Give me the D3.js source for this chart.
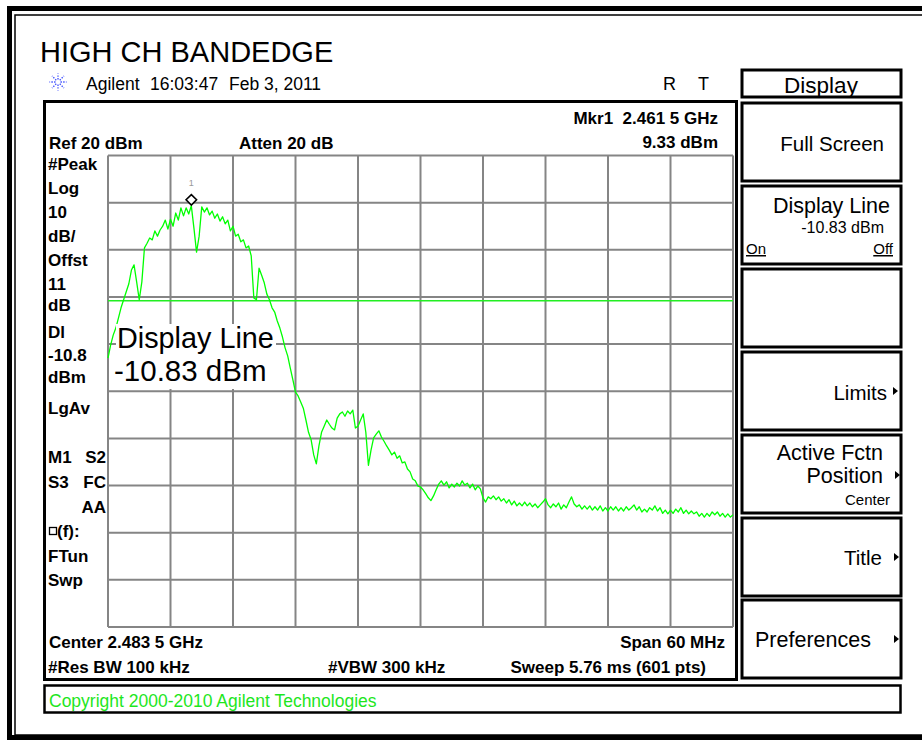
<!DOCTYPE html>
<html>
<head>
<meta charset="utf-8">
<title>HIGH CH BANDEDGE</title>
<style>
	html, body { margin:0; padding:0; background:#fff; }
	svg { display:block; font-family: "Liberation Sans", Arial, Helvetica, sans-serif; }
	.ann { font-weight:bold; font-size:17px; fill:#000; }
	.key { font-size:20.5px; fill:#000; }
	.box { fill:#fff; stroke:#000; stroke-width:3px; }
	.grid { stroke:#858585; stroke-width:2px; }
	.trace { fill:none; stroke:#00ff00; stroke-width:1.3px; stroke-linejoin:round; }
</style>
<script src="https://d3js.org/d3.v7.min.js"></script>
</head>
<body>
<svg id="chart"></svg>
<script>

//sweep settings
var startMHz = 2453.5, stopMHz = 2513.5;
var refLevel = 20, dbPerDiv = 10, divs = 10;
var displayLine = -10.83;
var markerMHz = 2461.5, markerLevel = 9.33;

//trace levels (dBm), evenly spaced sweep bins
var levels = [
	-23.0,-20.2,-18.1,-16.6,-14.5,-12.3,-10.6,-8.9,-7.2,-4.3,
	-3.2,-6.8,-10.6,-6.8,0.4,1.4,2.5,2.1,4.0,2.9,
	4.2,5.0,6.3,4.4,6.5,5.0,7.8,6.3,8.9,7.2,
	8.9,7.6,9.33,4.6,-0.5,2.9,9.1,8.0,8.9,7.4,
	8.2,6.7,7.6,6.1,7.0,5.5,6.3,4.0,5.0,2.9,
	3.3,1.7,2.1,0.4,0.8,-1.3,-10.2,-10.6,-3.9,-5.4,
	-7.0,-9.4,-10.6,-12.3,-13.2,-15.1,-16.6,-18.5,-20.8,-22.5,
	-25.1,-27.6,-30.2,-31.0,-32.3,-33.6,-36.1,-38.7,-40.3,-43.5,
	-45.4,-41.6,-38.7,-37.4,-36.1,-37.0,-37.8,-38.2,-35.7,-34.8,
	-34.4,-35.3,-34.2,-34.8,-34.0,-37.8,-37.4,-36.1,-34.8,-38.7,
	-45.7,-42.5,-39.9,-39.1,-38.4,-39.7,-40.6,-41.6,-42.5,-43.5,
	-42.9,-44.2,-43.7,-45.2,-45.0,-46.5,-47.1,-48.6,-49.0,-50.1,
	-50.3,-50.9,-51.7,-52.6,-53.2,-52.2,-50.9,-49.7,-49.0,-49.9,
	-49.2,-50.5,-49.7,-50.3,-49.5,-50.1,-49.0,-49.9,-49.5,-50.5,
	-49.7,-50.9,-50.1,-50.7,-52.6,-53.5,-52.4,-52.8,-52.2,-53.0,
	-52.4,-53.3,-52.8,-53.7,-53.0,-54.1,-53.3,-54.3,-53.7,-54.3,
	-53.5,-54.3,-53.7,-54.5,-53.9,-54.7,-54.1,-53.5,-52.8,-54.1,
	-54.7,-53.9,-54.5,-53.7,-55.0,-54.1,-54.7,-53.5,-52.4,-53.9,
	-54.5,-54.1,-55.0,-54.3,-55.0,-54.3,-55.2,-54.5,-55.2,-54.3,
	-55.4,-54.7,-55.4,-54.5,-55.2,-54.5,-55.4,-54.7,-55.4,-54.5,
	-55.2,-54.7,-54.1,-55.2,-54.5,-55.6,-55.0,-55.6,-54.7,-55.2,
	-54.3,-55.4,-54.7,-55.9,-55.2,-56.0,-55.2,-55.9,-55.0,-55.6,
	-54.7,-55.9,-55.2,-56.0,-55.4,-56.0,-55.6,-56.5,-55.9,-56.7,
	-55.9,-56.5,-55.6,-56.2,-55.6,-56.5,-55.9,-56.7,-56.0,-56.7,
	-56.2
];

//screen texts
var title = "HIGH CH BANDEDGE";
var stamp = ["Agilent", "16:03:47", "Feb 3, 2011"];
var leftLabels = ["#Peak","Log","10","dB/","Offst","11","dB","Dl","-10.8","dBm","LgAv","FTun","Swp"];
var softkeys = ["Full Screen","Display Line","","Limits","Active Fctn","Title","Preferences"];

var W = 922, H = 740;
var svg = d3.select("#chart").attr("width", W).attr("height", H);

function txt(x, y, s, cls, anchor) {
	return svg.append("text").attr("x", x).attr("y", y).attr("class", cls || null)
		.style("text-anchor", anchor || "start").text(s);
}

//outer frame
svg.append("rect").attr("x",9.5).attr("y",8.5).attr("width",W+20).attr("height",H-11).attr("fill","none").attr("stroke","#000").attr("stroke-width",5);
svg.append("rect").attr("x",15).attr("y",15).attr("width",W+20).attr("height",H-20).attr("fill","none").attr("stroke","#000").attr("stroke-width",1.5);

//title + header
txt(40, 62, title).style("font-size","29px");
var spark = svg.append("g").attr("transform","translate(58,82)");
d3.range(8).forEach(function(k){
	var a = k*Math.PI/4;
	spark.append("line").attr("x1",2.5*Math.cos(a)).attr("y1",2.5*Math.sin(a))
		.attr("x2",8.5*Math.cos(a)).attr("y2",8.5*Math.sin(a))
		.attr("stroke","#3b4cff").attr("stroke-width",1.3).attr("stroke-dasharray","1.4,1.3");
});
txt(86, 90, stamp[0]).style("font-size","17.5px");
txt(150, 90, stamp[1]).style("font-size","17.5px");
txt(229, 90, stamp[2]).style("font-size","17.5px");
txt(663, 90, "R").style("font-size","18px");
txt(698, 90, "T").style("font-size","18px");

//display area box
svg.append("rect").attr("class","box").attr("x",44.5).attr("y",101.5).attr("width",692).attr("height",578);

//scales
var x = d3.scaleLinear().domain([startMHz, stopMHz]).range([108, 733]);
var y = d3.scaleLinear().domain([refLevel - dbPerDiv*divs, refLevel]).range([627, 155.5]);
var step = (stopMHz - startMHz) / (levels.length - 1);

//graticule
var gx = d3.range(divs + 1).map(function(k){ return startMHz + k*(stopMHz-startMHz)/divs; });
var gy = y.ticks(divs);
var grat = svg.append("g");
grat.selectAll("line.v").data(gx).enter().append("line").attr("class","grid")
	.attr("x1", x).attr("x2", x).attr("y1", y.range()[1]).attr("y2", y.range()[0]);
grat.selectAll("line.h").data(gy).enter().append("line").attr("class","grid")
	.attr("y1", y).attr("y2", y).attr("x1", x.range()[0]).attr("x2", x.range()[1]);

//display line
svg.append("line").attr("x1", x.range()[0]).attr("x2", x.range()[1])
	.attr("y1", y(displayLine)).attr("y2", y(displayLine))
	.attr("stroke","#22ee22").attr("stroke-width",1.5);

//trace
var line = d3.line().x(function(d,i){ return x(startMHz + i*step); }).y(function(d){ return y(d); });
svg.append("path").datum(levels).attr("class","trace").attr("d", line);

//active function overlay
svg.append("rect").attr("x",116).attr("y",324).attr("width",160).attr("height",65).attr("fill","#fff");
txt(117, 348, "Display Line").style("font-size","28.8px");
txt(114, 381, (displayLine).toFixed(2) + " dBm").style("font-size","29.5px");

//marker
var mx = x(markerMHz), my = y(markerLevel) - 6;
svg.append("path").attr("d", d3.symbol().type(d3.symbolDiamond2).size(70))
	.attr("transform","translate("+mx+","+my+")")
	.attr("fill","#fff").attr("stroke","#000").attr("stroke-width",1.6);
txt(mx, my - 14, "1").style("font-size","9px").style("fill","#999").style("text-anchor","middle");

//annotations
txt(49, 149, "Ref " + refLevel + " dBm", "ann");
txt(239, 149, "Atten 20 dB", "ann");
txt(718, 124, "Mkr1  2.461 5 GHz", "ann", "end").style("white-space","pre");
txt(718, 148, markerLevel.toFixed(2) + " dBm", "ann", "end");

var leftY = [170,194,218,242,266,290,311,338,361,383,414,562,586];
leftLabels.forEach(function(s,i){ txt(48, leftY[i], s, "ann"); });
txt(48, 463, "M1", "ann"); txt(106, 463, "S2", "ann", "end");
txt(48, 488, "S3", "ann"); txt(106, 488, "FC", "ann", "end");
txt(106, 513, "AA", "ann", "end");
svg.append("rect").attr("x",49.5).attr("y",527.5).attr("width",7).attr("height",7).attr("fill","none").attr("stroke","#000").attr("stroke-width",1.3);
txt(57, 537, "(f):", "ann");

txt(49, 648, "Center 2.483 5 GHz", "ann");
txt(725, 648, "Span 60 MHz", "ann", "end");
txt(48, 673, "#Res BW 100 kHz", "ann");
txt(328, 673, "#VBW 300 kHz", "ann");
txt(706, 673, "Sweep 5.76 ms (601 pts)", "ann", "end");

//copyright bar
svg.append("rect").attr("x",44.5).attr("y",685.5).attr("width",856).attr("height",27).attr("fill","#fff").attr("stroke","#000").attr("stroke-width",2.5);
txt(49, 707, "Copyright 2000-2010 Agilent Technologies").style("font-size","17.5px").style("fill","#1ee61e");

//softkey menu
svg.append("rect").attr("class","box").attr("x",742).attr("y",70).attr("width",159).attr("height",27);
txt(821, 93, "Display", "key", "middle").style("font-size","22.5px");
var keyTop = [103,186,269,352,435,518,600];
keyTop.forEach(function(t){
	svg.append("rect").attr("class","box").attr("x",742).attr("y",t).attr("width",159).attr("height",78);
});
function arrow(cx, cy) {
	svg.append("path").attr("d","M"+cx+","+(cy-4)+"L"+(cx+5)+","+cy+"L"+cx+","+(cy+4)+"Z").attr("fill","#000");
}
txt(884, 151, softkeys[0], "key", "end");
txt(890, 213, softkeys[1], "key", "end").style("font-size","21.5px");
txt(884, 233, displayLine.toFixed(2) + " dBm", "key", "end").style("font-size","16px");
txt(746, 254, "On", "key").style("font-size","15px").style("text-decoration","underline");
txt(893, 254, "Off", "key", "end").style("font-size","15px").style("text-decoration","underline");
txt(887, 400, softkeys[3], "key", "end"); arrow(893, 391);
txt(883, 460, softkeys[4], "key", "end").style("font-size","21.5px");
txt(883, 483, "Position", "key", "end").style("font-size","21.5px"); arrow(895, 475);
txt(890, 505, "Center", "key", "end").style("font-size","15px");
txt(882, 565, softkeys[5], "key", "end"); arrow(894, 557);
txt(755, 647, softkeys[6], "key").style("font-size","21.5px"); arrow(894, 639);

</script>
</body>
</html>
